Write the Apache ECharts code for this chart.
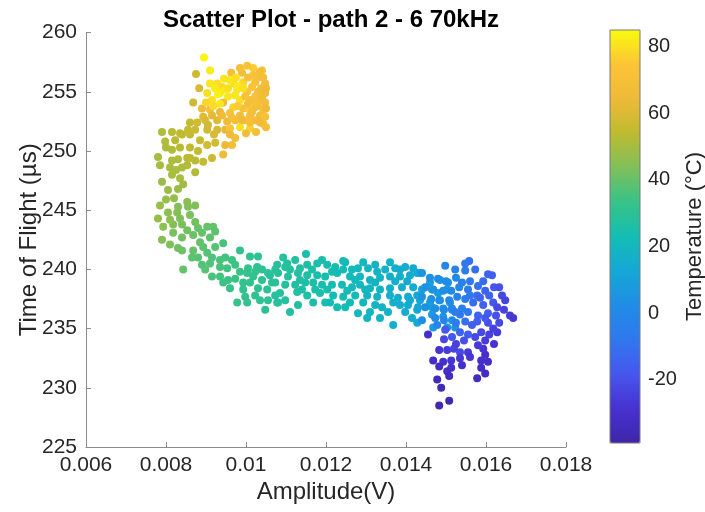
<!DOCTYPE html>
<html><head><meta charset="utf-8">
<script src="https://cdn.jsdelivr.net/npm/echarts@6/dist/echarts.min.js"></script>
<style>html,body{margin:0;padding:0;background:#fff}#c{width:705px;height:512px}</style>
</head><body><div id="c"></div>
<script>
// [amplitude (V), time of flight (µs), temperature (°C)]
const hotCluster = [
[0.00895,257.9,84],[0.0091,256.8,82],[0.00875,256.5,57],[0.00963,256.6,70],[0.0099,256.6,68],[0.01018,257.0,76],
[0.01043,256.2,70],[0.0103,256.2,69],[0.0091,255.7,81],[0.00928,255.7,80],[0.0094,255.4,79],[0.00883,255.3,60],
[0.00903,254.9,80],[0.00923,255.3,82],[0.00968,255.7,80],[0.00993,255.8,78],[0.01023,255.8,72],[0.01048,255.7,68],
[0.00978,255.2,81],[0.01003,255.0,74],[0.0103,255.0,70],[0.01048,254.9,66],[0.00935,254.9,82],[0.00955,254.6,81],
[0.00985,254.3,80],[0.0101,254.3,70],[0.01035,254.3,69],[0.01048,254.1,68],[0.00915,254.3,80],[0.00943,254.1,66],
[0.00968,253.7,78],[0.00993,253.6,70],[0.01023,253.7,68],[0.01043,253.5,70],[0.0091,253.5,68],[0.00935,253.3,64],
[0.0096,253.2,72],[0.00985,253.0,68],[0.0101,253.0,70],[0.01035,253.0,68],[0.01048,252.9,72],[0.00893,252.9,62],
[0.00928,252.6,62],[0.00953,252.5,66],[0.00985,252.0,80],[0.0101,251.9,78],[0.01025,251.6,69],[0.00928,251.8,60],
[0.00948,251.8,63],[0.0096,251.9,74],[0.00973,251.1,68],[0.00965,250.5,68],[0.00943,249.7,66],[0.00868,254.1,57],
[0.0089,253.6,66],[0.0086,252.4,55],[0.00878,252.4,58],[0.00898,252.6,60],[0.00915,253.0,62],
[0.01005,256.2,71],[0.00975,256.2,80],[0.0095,255.2,82],[0.01015,255.4,74],[0.01038,255.3,67],[0.00998,254.6,72],
[0.01023,254.6,72],[0.00973,254.7,81],[0.0098,253.8,76],[0.01005,253.6,75],[0.0103,253.8,70],[0.00998,252.6,72],
[0.01023,252.6,67],[0.01043,252.3,70],[0.00973,252.6,68],[0.00935,254.0,81],[0.00955,255.3,80],[0.00918,253.8,79],
[0.009,254.1,78],[0.0104,256.8,72],[0.01003,257.2,73],[0.00945,256.1,81],
[0.01035,256.7,68],[0.0105,255.3,66],[0.0104,254.5,67],[0.0105,253.6,65],[0.01015,253.3,68],[0.0099,252.6,66],
[0.00965,252.8,70],[0.0094,253.0,66],[0.01035,252.4,66],[0.0101,252.4,70],[0.0105,252.0,69],[0.01,251.5,67],
[0.0096,251.4,66],[0.0092,251.4,60],[0.0098,255.5,82],[0.0096,256.0,81],[0.0093,254.8,83],[0.00993,255.3,80],
[0.01018,256.4,72],[0.00985,257.0,70],[0.01025,254.1,71],[0.01005,254.0,69],[0.00905,252.2,58],[0.00885,250.9,56],
[0.00923,250.7,58],[0.00948,250.5,64]
];
const leftLeg = [
[0.0079,251.6,52],[0.00815,251.6,53],[0.00835,251.5,54],[0.00855,251.8,56],[0.00873,251.8,57],[0.00903,251.8,58],
[0.0084,251.4,54],[0.0086,251.4,55],[0.0078,249.5,50],[0.00815,250.1,52],[0.00835,250.3,53],[0.0086,250.3,54],
[0.0088,250.0,55],[0.00903,250.5,58],[0.00815,249.2,51],[0.0083,249.3,52],[0.00853,249.4,53],[0.00873,249.2,53],
[0.00893,249.1,55],[0.00915,249.4,57],[0.0081,248.6,50],[0.0084,248.6,51],[0.00853,248.8,52],[0.00873,248.2,52],
[0.00815,248.0,50],[0.00835,247.7,50],[0.00843,247.2,49],[0.0079,247.4,48],[0.0083,246.8,48],[0.0082,246.0,47],
[0.00853,245.7,45],[0.0083,245.3,44],[0.00855,245.3,44],[0.0078,244.3,47],[0.00805,244.8,46],[0.00828,244.8,45],
[0.00835,244.3,44],[0.0086,244.6,43],[0.00793,243.6,46],[0.00818,243.8,44],[0.0084,243.8,43],[0.00853,243.3,42],
[0.0088,243.5,41],[0.00903,243.6,40],[0.00918,243.6,40],[0.00798,250.8,52],[0.00823,250.9,53],[0.00805,246.7,48],
[0.008,250.3,51],[0.00785,248.8,50],[0.0086,249.4,54],[0.00825,248.4,51],[0.008,245.9,48],[0.00873,245.4,44],
[0.00785,245.4,48],[0.0081,244.2,46],[0.00873,244.0,42]
];
const bendPoints = [
[0.0079,242.5,45],[0.00818,243.1,43],[0.0084,242.7,42],[0.00868,242.9,41],[0.0089,243.1,40],[0.0091,242.7,39],
[0.0083,241.8,42],[0.0084,241.6,41],[0.00868,241.6,40],[0.00893,241.9,39],[0.00943,242.2,36],[0.00865,241.0,39],
[0.0088,241.0,38],[0.00903,241.4,38],[0.00915,241.0,37],[0.00935,240.8,36],[0.00948,241.0,35],[0.00965,240.8,34],
[0.00843,240.0,40],[0.0089,240.4,37],[0.0091,240.5,37],[0.00935,240.2,36],[0.00953,240.1,35],[0.00915,239.4,36],
[0.00935,239.4,35],[0.00955,239.1,34],[0.00943,238.9,34],[0.0096,238.4,33],[0.00985,241.6,32],[0.0101,241.1,31],
[0.0103,241.1,31],[0.00985,239.8,33],[0.01003,239.7,32],[0.01023,239.8,32],[0.0104,240.0,31],[0.01055,239.7,30],
[0.01073,240.0,30],[0.00993,238.9,32],[0.01018,239.4,32],[0.0104,239.1,31],[0.01065,238.9,30],[0.00993,238.3,32],
[0.0103,238.4,31],[0.01053,238.3,30],[0.01073,237.8,29],[0.00978,237.2,33],[0.01003,237.2,32],[0.01035,237.4,31],
[0.01048,236.6,30],[0.01078,237.2,29],[0.00923,241.9,38],[0.01005,240.1,32],[0.01028,240.2,31],[0.00998,237.7,32],
[0.0081,242.1,44],[0.00898,240.0,38],[0.00973,239.2,34],[0.0101,238.9,32],[0.00973,240.4,34],[0.00923,243.2,39],
[0.00885,242.3,40],[0.01055,237.4,30],[0.01023,237.8,31]
];
const plateau = [
[0.0115,241.3,25],[0.01123,240.8,27],[0.01078,240.4,29],[0.01098,240.2,28],[0.0111,240.0,28],[0.01153,240.4,26],
[0.01178,240.5,25],[0.01203,240.4,24],[0.01223,240.2,23],[0.01248,240.6,22],[0.0106,239.5,29],[0.0108,239.7,29],
[0.01105,239.4,28],[0.0113,239.7,27],[0.01153,239.5,26],[0.01178,239.5,25],[0.01198,239.4,24],[0.01228,239.7,23],
[0.01243,240.0,22],[0.0128,240.1,20],[0.01305,240.1,19],[0.01328,239.8,18],[0.01348,240.0,17],[0.01373,240.1,16],
[0.01398,240.2,15],[0.01418,240.1,14],[0.0126,239.4,21],[0.01285,239.4,20],[0.0131,239.1,19],[0.01335,239.3,18],
[0.0136,239.4,16],[0.01385,239.4,15],[0.0141,239.5,14],[0.01428,239.7,13],[0.01073,238.9,29],[0.01098,238.7,28],
[0.01123,238.7,27],[0.01148,238.9,26],[0.01168,238.9,25],[0.0119,238.7,24],[0.01215,238.7,23],[0.0124,238.7,22],
[0.01265,238.5,21],[0.01285,238.7,20],[0.0131,238.4,19],[0.01335,238.3,18],[0.0136,238.4,16],[0.0139,238.5,15],
[0.01418,238.5,14],[0.01085,238.0,28],[0.01128,238.1,27],[0.01153,237.8,26],[0.01185,238.0,25],[0.01218,237.8,23],
[0.01243,237.7,22],[0.01273,237.8,21],[0.01303,237.8,19],[0.01328,237.7,18],[0.0136,237.8,16],[0.0138,237.6,15],
[0.01405,237.7,14],[0.01428,237.8,13],[0.0108,237.2,28],[0.0111,236.4,27],[0.01168,237.2,25],[0.01198,237.2,24],
[0.01228,236.8,23],[0.0126,237.2,21],[0.0128,236.3,20],[0.01303,235.9,19],[0.0131,236.4,19],[0.0134,236.8,17],
[0.01368,237.2,16],[0.01398,236.4,15],[0.01428,236.6,13],[0.01368,235.3,16],[0.01428,235.5,13],
[0.01435,239.7,12],[0.0146,238.9,9],[0.01485,239.1,7],[0.01505,238.9,6],[0.0144,238.3,11],[0.01465,238.3,9],
[0.0148,238.0,8],[0.01503,238.3,6],[0.0141,237.4,14],[0.01435,237.4,11],[0.0146,237.2,9],[0.01485,237.4,7],
[0.0151,237.2,5],[0.01405,237.0,14],[0.0143,236.8,12],[0.01465,236.8,9],[0.01493,236.7,7],[0.01515,236.6,5],
[0.01465,236.2,8],[0.01493,236.0,6],[0.01515,235.7,4],[0.01468,235.1,8],[0.01503,235.1,5],[0.01523,235.1,4],
[0.01103,240.5,28],[0.01243,240.7,22],
[0.01093,241.0,28],[0.01135,240.1,27],[0.01165,240.0,26],[0.0119,240.8,25],[0.01215,239.8,24],[0.01265,240.0,21],
[0.01293,240.6,20],[0.01323,240.4,18],[0.0136,240.6,17],[0.01385,240.0,15],[0.0114,238.3,26],[0.01173,238.3,25],
[0.01203,238.3,24],[0.01253,238.2,22],[0.01298,238.3,19],[0.01323,238.9,18],[0.01373,239.0,16],[0.01403,239.0,14],
[0.01098,237.4,28],[0.0113,237.0,27],[0.0121,237.2,23],[0.01248,236.8,22],[0.01293,237.2,20],[0.01323,237.0,18],
[0.01355,236.4,17],[0.01385,237.0,15],[0.01415,235.9,14],[0.01335,235.9,18],[0.01135,239.1,27],[0.01273,239.1,21]
];
const coldCluster = [
[0.01558,240.7,-10],[0.01548,240.5,-8],[0.01548,239.9,-6],[0.0144,239.7,6],[0.0146,239.3,4],[0.0148,239.2,3],
[0.015,239.0,2],[0.01525,239.3,0],[0.0154,238.9,-4],[0.0156,239.0,-8],[0.01605,239.6,-14],[0.01593,239.0,-12],
[0.0158,238.6,-10],[0.01598,238.2,-15],[0.0162,238.5,-18],[0.01633,238.5,-20],[0.0164,237.8,-22],[0.01448,238.5,5],
[0.01468,238.3,4],[0.01493,238.2,3],[0.01513,238.2,2],[0.01533,238.5,0],[0.01555,238.3,-6],[0.01578,237.8,-10],
[0.01608,237.8,-14],[0.0144,237.7,5],[0.01463,237.5,4],[0.01483,237.4,3],[0.01508,237.4,1],[0.01528,237.7,-2],
[0.01548,237.5,-5],[0.01568,237.2,-12],[0.01593,237.0,-15],[0.01618,237.2,-18],[0.01628,236.8,-22],[0.01645,236.6,-24],
[0.0166,236.1,-26],[0.01448,236.8,4],[0.01473,236.7,3],[0.01495,236.6,1],[0.01515,236.7,-1],[0.0154,236.7,-4],
[0.01555,236.4,-8],[0.0158,236.1,-14],[0.01605,236.3,-16],[0.01625,236.1,-20],[0.0144,235.7,3],[0.01473,235.9,1],
[0.01495,235.7,-1],[0.01525,235.5,-6],[0.01548,235.6,-10],[0.01578,235.6,-16],[0.01605,235.5,-20],[0.01633,235.5,-22],
[0.01455,234.5,-30],[0.01495,234.1,-22],[0.01515,234.3,-18],[0.01535,234.7,-14],[0.01555,234.5,-16],[0.01588,234.7,-22],
[0.01608,234.5,-24],[0.01628,234.7,-26],[0.01525,233.7,-24],[0.01545,234.0,-20],[0.01573,234.3,-22],[0.01598,234.0,-26],
[0.0162,233.7,-28],[0.01483,233.2,-28],[0.01503,233.2,-26],[0.0152,233.3,-24],[0.01535,233.0,-22],[0.01555,233.0,-26],
[0.01593,233.3,-28],[0.01598,232.8,-30],[0.01468,232.3,-32],[0.01493,232.2,-30],[0.01513,232.3,-28],[0.01535,232.5,-27],
[0.01588,232.3,-30],[0.01605,232.2,-31],[0.01483,231.8,-33],[0.01513,231.7,-30],[0.01588,231.7,-32],[0.01503,231.4,-31],
[0.01598,231.2,-32],[0.01578,230.8,-33],[0.01478,230.7,-34],[0.01508,231.0,-33],[0.01488,230.0,-35],[0.01508,228.9,-36],
[0.01483,228.5,-37],[0.01668,235.9,-27],[0.01615,239.5,-15],[0.0156,232.6,-28],
[0.01498,240.3,0],[0.01523,240.0,-2],[0.01573,240.0,-10],[0.01585,237.6,-14],[0.0156,237.8,-8],[0.01535,236.2,-8],
[0.01565,235.3,-16],[0.01598,235.9,-18],[0.01618,235.0,-24],[0.01648,237.4,-24],[0.0158,233.6,-26],[0.0154,231.9,-30],
[0.01498,234.9,-18],[0.01523,236.4,-6],[0.01478,235.3,-2]
];
const colorbarTicks = [-20, 0, 20, 40, 60, 80];
const tempRange = [-39, 85];
const parulaColors = ['#3e26a8','#4731d0','#4756ee','#2f78ee','#208ce6','#14a8d5','#14bdb4','#37c387',
                      '#7fc05a','#bebb30','#eeba38','#fcc437','#f9fb0e'];

const allPoints = [].concat(hotCluster, leftLeg, bendPoints, plateau, coldCluster);
const FONT = 'Liberation Sans';
const chart = echarts.init(document.getElementById('c'), null, {renderer: 'canvas'});
chart.setOption({
  backgroundColor: '#ffffff',
  animation: false,
  textStyle: {fontFamily: FONT},
  title: {
    text: 'Scatter Plot - path 2 - 6 70kHz',
    left: 326, top: 3, textAlign: 'center',
    textStyle: {fontFamily: FONT, fontSize: 24, fontWeight: 'bold', color: '#000'}
  },
  grid: [
    {left: 86, right: 139, top: 32.6, bottom: 65, containLabel: false, outerBoundsMode: 'none'},
    {left: 610, width: 30, top: 30, height: 413, show: true, borderColor: '#7a7a7a', borderWidth: 1,
     backgroundColor: 'transparent', z: 10, containLabel: false, outerBoundsMode: 'none'}
  ],
  xAxis: [
    {type: 'value', gridIndex: 0, min: 0.006, max: 0.018, interval: 0.002,
     name: 'Amplitude(V)', nameLocation: 'middle', nameGap: 33, nameMoveOverlap: false,
     nameTextStyle: {fontFamily: FONT, fontSize: 24, color: '#262626'},
     axisLine: {show: true, lineStyle: {color: '#8c8c8c', width: 1}},
     axisTick: {show: true, inside: true, length: 5, lineStyle: {color: '#8c8c8c'}},
     axisLabel: {fontFamily: FONT, fontSize: 21, color: '#262626', margin: 8,
                 formatter: v => String(parseFloat(v.toFixed(4)))},
     splitLine: {show: false}},
    {type: 'value', gridIndex: 1, show: false, min: 0, max: 1}
  ],
  yAxis: [
    {type: 'value', gridIndex: 0, min: 225, max: 260, interval: 5,
     name: 'Time of Flight (µs)', nameLocation: 'middle', nameGap: 45, nameMoveOverlap: false,
     nameTextStyle: {fontFamily: FONT, fontSize: 24, color: '#262626'},
     axisLine: {show: true, lineStyle: {color: '#8c8c8c', width: 1}},
     axisTick: {show: true, inside: true, length: 5, lineStyle: {color: '#8c8c8c'}},
     axisLabel: {fontFamily: FONT, fontSize: 21, color: '#262626', margin: 9},
     splitLine: {show: false}},
    {type: 'value', gridIndex: 1, position: 'right', min: tempRange[0], max: tempRange[1],
     name: 'Temperature (°C)', nameLocation: 'middle', nameGap: 44, nameRotate: 90,
     nameTextStyle: {fontFamily: FONT, fontSize: 22, color: '#262626'},
     axisLine: {show: false},
     axisTick: {show: true, length: 3, customValues: colorbarTicks, lineStyle: {color: '#555'}},
     axisLabel: {fontFamily: FONT, fontSize: 20, color: '#262626', margin: 8, customValues: colorbarTicks},
     splitLine: {show: false}}
  ],
  visualMap: {
    type: 'continuous', min: tempRange[0], max: tempRange[1], dimension: 2, seriesIndex: 0,
    left: 610, top: 30, itemWidth: 30, itemHeight: 413, padding: 0,
    calculable: false, text: null, showLabel: false, realtime: false,
    inRange: {color: parulaColors}
  },
  series: [{
    type: 'scatter', xAxisIndex: 0, yAxisIndex: 0,
    symbol: 'circle', symbolSize: 8,
    itemStyle: {opacity: 1},
    data: allPoints
  }]
});
</script></body></html>
